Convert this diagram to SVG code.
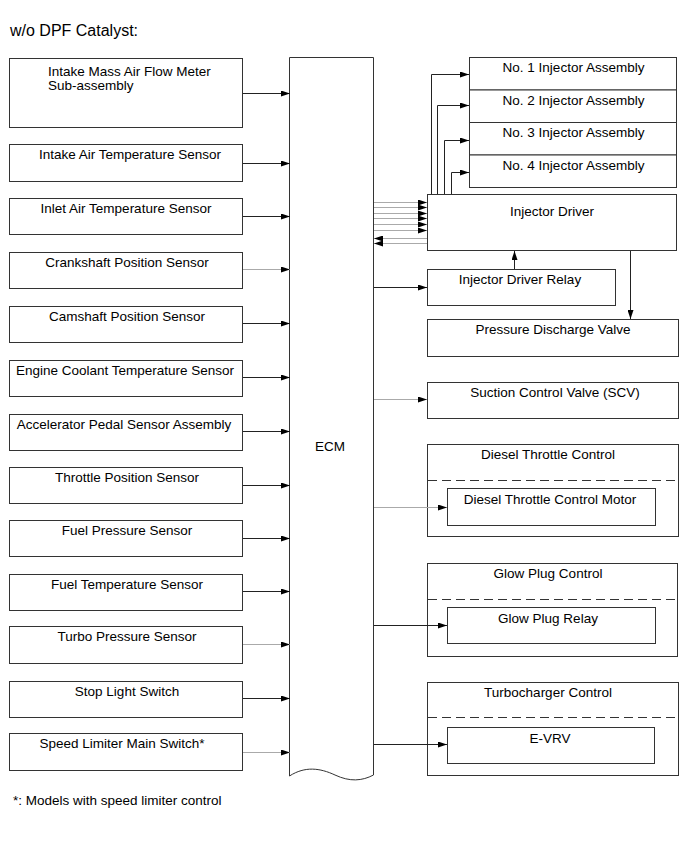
<svg xmlns="http://www.w3.org/2000/svg" width="689" height="853" viewBox="0 0 689 853">
<style>
text{font-family:"Liberation Sans",Arial,sans-serif;font-size:13.5px;fill:#000}
.t{font-size:16px}
.c{text-anchor:middle}
.box{fill:#fff;stroke:#333;stroke-width:1}
.ln{fill:none;stroke:#222;stroke-width:1}
.lg{fill:none;stroke:#aaa;stroke-width:1}
.dash{fill:none;stroke:#333;stroke-width:1;stroke-dasharray:9 5}
</style>
<defs>
<marker id="ah" markerUnits="userSpaceOnUse" markerWidth="10" markerHeight="6" refX="9" refY="3" orient="auto">
<path d="M0,0 L9,3 L0,6 z" fill="#000"/>
</marker>
</defs>
<rect width="689" height="853" fill="#fff"/>
<text class="t" x="10" y="36">w/o DPF Catalyst:</text>

<g id="ecm">
<path class="box" d="M289.5,776 L289.5,57.5 L373.5,57.5 L373.5,775 C362,781 350,782 335,775 C320,768 305,766 289.5,776 Z"/>
<text class="c" x="330" y="451">ECM</text>
</g>

<g id="in1"><rect class="box" x="9.5" y="58.5" width="233" height="69"/><text x="48" y="76">Intake Mass Air Flow Meter</text><text x="48" y="90">Sub-assembly</text></g>
<g id="in2"><rect class="box" x="9.5" y="144.5" width="233" height="37"/><text class="c" x="130" y="158.5">Intake Air Temperature Sensor</text></g>
<g id="in3"><rect class="box" x="9.5" y="198.5" width="233" height="36"/><text class="c" x="126" y="212.5">Inlet Air Temperature Sensor</text></g>
<g id="in4"><rect class="box" x="9.5" y="252.5" width="233" height="36"/><text class="c" x="127" y="266.5">Crankshaft Position Sensor</text></g>
<g id="in5"><rect class="box" x="9.5" y="306.5" width="233" height="36"/><text class="c" x="127" y="320.5">Camshaft Position Sensor</text></g>
<g id="in6"><rect class="box" x="9.5" y="360.5" width="233" height="36"/><text class="c" x="125" y="374.5">Engine Coolant Temperature Sensor</text></g>
<g id="in7"><rect class="box" x="9.5" y="414.5" width="233" height="36"/><text class="c" x="124" y="428.5">Accelerator Pedal Sensor Assembly</text></g>
<g id="in8"><rect class="box" x="9.5" y="467.5" width="233" height="36"/><text class="c" x="127" y="481.5">Throttle Position Sensor</text></g>
<g id="in9"><rect class="box" x="9.5" y="520.5" width="233" height="36"/><text class="c" x="127" y="534.5">Fuel Pressure Sensor</text></g>
<g id="in10"><rect class="box" x="9.5" y="574.5" width="233" height="36"/><text class="c" x="127" y="588.5">Fuel Temperature Sensor</text></g>
<g id="in11"><rect class="box" x="9.5" y="626.5" width="233" height="37"/><text class="c" x="127" y="641">Turbo Pressure Sensor</text></g>
<g id="in12"><rect class="box" x="9.5" y="681.5" width="233" height="36"/><text class="c" x="127" y="695.5">Stop Light Switch</text></g>
<g id="in13"><rect class="box" x="9.5" y="733.5" width="233" height="37"/><text class="c" x="122" y="748">Speed Limiter Main Switch*</text></g>

<g id="inj1"><rect class="box" x="469.5" y="57.5" width="207" height="32.5"/><text class="c" x="573.5" y="72">No. 1 Injector Assembly</text></g>
<g id="inj2"><rect class="box" x="469.5" y="90" width="207" height="32.5"/><text class="c" x="573.5" y="104.5">No. 2 Injector Assembly</text></g>
<g id="inj3"><rect class="box" x="469.5" y="122.5" width="207" height="32.5"/><text class="c" x="573.5" y="137">No. 3 Injector Assembly</text></g>
<g id="inj4"><rect class="box" x="469.5" y="155" width="207" height="32.5"/><text class="c" x="573.5" y="169.5">No. 4 Injector Assembly</text></g>

<g id="driver"><rect class="box" x="427.5" y="194.5" width="249" height="56"/><text class="c" x="552" y="216">Injector Driver</text></g>
<g id="relay"><rect class="box" x="427.5" y="269.5" width="188" height="36"/><text class="c" x="520" y="284">Injector Driver Relay</text></g>
<g id="pdv"><rect class="box" x="427.5" y="319.5" width="251" height="37"/><text class="c" x="553" y="334">Pressure Discharge Valve</text></g>
<g id="scv"><rect class="box" x="427.5" y="382.5" width="251" height="36"/><text class="c" x="555" y="396.5">Suction Control Valve (SCV)</text></g>

<g id="dtc">
<rect class="box" x="427.5" y="444.5" width="251" height="92"/>
<line class="dash" x1="428" y1="480.5" x2="678" y2="480.5"/>
<text class="c" x="548" y="458.5">Diesel Throttle Control</text>
<rect class="box" x="447.5" y="488.5" width="208" height="37"/>
<text class="c" x="550" y="503.5">Diesel Throttle Control Motor</text>
</g>
<g id="gpc">
<rect class="box" x="427.5" y="563.5" width="250" height="93"/>
<line class="dash" x1="428" y1="599.5" x2="677" y2="599.5"/>
<text class="c" x="548" y="578">Glow Plug Control</text>
<rect class="box" x="447.5" y="607.5" width="208" height="36"/>
<text class="c" x="548" y="623">Glow Plug Relay</text>
</g>
<g id="tc">
<rect class="box" x="427.5" y="682.5" width="251" height="93"/>
<line class="dash" x1="428" y1="717.5" x2="678" y2="717.5"/>
<text class="c" x="548" y="697">Turbocharger Control</text>
<rect class="box" x="447.5" y="727.5" width="207" height="36"/>
<text class="c" x="550" y="742.5">E-VRV</text>
</g>

<g id="connectors">
<line class="ln" x1="243" y1="93.5" x2="290" y2="93.5" marker-end="url(#ah)"/>
<line class="ln" x1="243" y1="163.5" x2="290" y2="163.5" marker-end="url(#ah)"/>
<line class="ln" x1="243" y1="216.5" x2="290" y2="216.5" marker-end="url(#ah)"/>
<line class="lg" x1="243" y1="269.5" x2="290" y2="269.5" marker-end="url(#ah)"/>
<line class="ln" x1="243" y1="323.5" x2="290" y2="323.5" marker-end="url(#ah)"/>
<line class="ln" x1="243" y1="377.5" x2="290" y2="377.5" marker-end="url(#ah)"/>
<line class="ln" x1="243" y1="431.5" x2="290" y2="431.5" marker-end="url(#ah)"/>
<line class="ln" x1="243" y1="485.5" x2="290" y2="485.5" marker-end="url(#ah)"/>
<line class="ln" x1="243" y1="538.5" x2="290" y2="538.5" marker-end="url(#ah)"/>
<line class="ln" x1="243" y1="591.5" x2="290" y2="591.5" marker-end="url(#ah)"/>
<line class="lg" x1="243" y1="644.5" x2="290" y2="644.5" marker-end="url(#ah)"/>
<line class="ln" x1="243" y1="698.5" x2="290" y2="698.5" marker-end="url(#ah)"/>
<line class="lg" x1="243" y1="752.5" x2="290" y2="752.5" marker-end="url(#ah)"/>

<line class="lg" x1="374" y1="202.5" x2="427" y2="202.5" marker-end="url(#ah)"/>
<line class="lg" x1="374" y1="207.5" x2="427" y2="207.5" marker-end="url(#ah)"/>
<line class="lg" x1="374" y1="213.5" x2="427" y2="213.5" marker-end="url(#ah)"/>
<line class="lg" x1="374" y1="218.5" x2="427" y2="218.5" marker-end="url(#ah)"/>
<line class="lg" x1="374" y1="224.5" x2="427" y2="224.5" marker-end="url(#ah)"/>
<line class="lg" x1="374" y1="230.5" x2="427" y2="230.5" marker-end="url(#ah)"/>
<line class="lg" x1="427" y1="238.5" x2="374" y2="238.5" marker-end="url(#ah)"/>
<line class="lg" x1="427" y1="243.5" x2="374" y2="243.5" marker-end="url(#ah)"/>

<polyline class="ln" points="431.5,194 431.5,74.5 469,74.5" marker-end="url(#ah)"/>
<polyline class="ln" points="437.5,194 437.5,105.5 469,105.5" marker-end="url(#ah)"/>
<polyline class="ln" points="444.5,194 444.5,140.5 469,140.5" marker-end="url(#ah)"/>
<polyline class="ln" points="451.5,194 451.5,172.5 469,172.5" marker-end="url(#ah)"/>

<line class="ln" x1="374" y1="287.5" x2="427" y2="287.5" marker-end="url(#ah)"/>
<line class="ln" x1="514.5" y1="269" x2="514.5" y2="251" marker-end="url(#ah)"/>
<line class="ln" x1="630.5" y1="251" x2="630.5" y2="319" marker-end="url(#ah)"/>
<line class="lg" x1="374" y1="399.5" x2="427" y2="399.5" marker-end="url(#ah)"/>
<line class="lg" x1="374" y1="507.5" x2="447" y2="507.5" marker-end="url(#ah)"/>
<line class="ln" x1="374" y1="625.5" x2="447" y2="625.5" marker-end="url(#ah)"/>
<line class="ln" x1="374" y1="744.5" x2="447" y2="744.5" marker-end="url(#ah)"/>
</g>

<text x="13" y="805">*: Models with speed limiter control</text>
</svg>
